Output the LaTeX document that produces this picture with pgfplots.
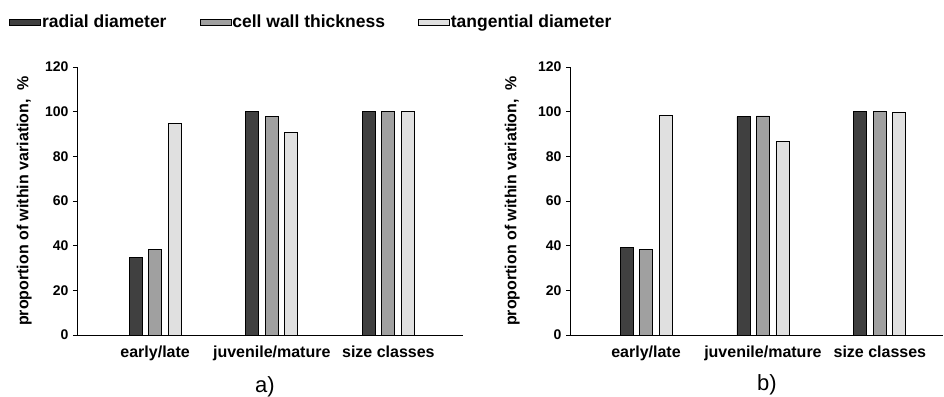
\documentclass[border=0pt]{standalone}
\usepackage{fontspec}
\setmainfont{Liberation Sans}
\usepackage{pgfplots}
\pgfplotsset{compat=1.18}
\definecolor{cdark}{HTML}{404040}
\definecolor{cmid}{HTML}{A0A0A0}
\definecolor{clight}{HTML}{E0E0E0}
\pgfplotsset{
  panel/.style={
    scale only axis,
    anchor=south west,
    height=268pt,
    ybar=6.5pt,
    bar width=13pt,
    ymin=0, ymax=120,
    ytick={0,20,...,120},
    axis x line=bottom,
    axis y line=left,
    axis line style={-, line width=0.9pt},
    xtick={0,1,2},
    xticklabels={early/late, juvenile/mature, size classes},
    xtick style={draw=none},
    ytick style={line width=0.9pt, black},
    tick align=outside,
    major tick length=4pt,
    /pgf/number format/assume math mode=true,
    yticklabel style={font=\bfseries\fontsize{14}{14}\selectfont, xshift=-1pt},
    xticklabel style={font=\bfseries\fontsize{16}{16}\selectfont, yshift=-3pt},
    ylabel={proportion of within variation,~~\%},
    ylabel style={font=\bfseries\fontsize{16}{16}\selectfont, anchor=center},
    xlabel style={font=\fontsize{22}{22}\selectfont, anchor=center},
    every axis plot/.append style={draw=black, line width=0.8pt},
  }
}
\begin{document}
\begin{tikzpicture}
\useasboundingbox (0,0) rectangle (944pt,396pt);
\begin{axis}[panel,
  at={(77pt,61pt)}, width=386pt,
  xmin=-0.67, xmax=2.64,
  ylabel style={at={(axis description cs:-0.137,0.5)}},
  xlabel={a)},
  xlabel style={at={(axis description cs:0.487,-0.194)}},
  legend columns=3,
  legend style={draw=none, fill=none, inner sep=0pt,
    at={(axis description cs:-0.176,1.168)}, anchor=west,
    font=\bfseries\fontsize{17.5}{17.5}\selectfont,
    /tikz/every even column/.append style={column sep=32pt},
    nodes={inner sep=1pt}},
  legend image code/.code={\draw[#1, line width=0.8pt] (0pt,-3pt) rectangle (31pt,3pt);},
]
\addplot[fill=cdark] coordinates {(0,34.6) (1,100) (2,100)};
\addplot[fill=cmid] coordinates {(0,38.4) (1,97.8) (2,100)};
\addplot[fill=clight] coordinates {(0,94.8) (1,90.8) (2,100.1)};
\legend{radial diameter, cell wall thickness, tangential diameter}
\end{axis}
\begin{axis}[panel,
  at={(570pt,61pt)}, width=373pt,
  xmin=-0.65, xmax=2.54,
  ylabel style={at={(axis description cs:-0.155,0.5)}},
  xlabel={b)},
  xlabel style={at={(axis description cs:0.528,-0.187)}},
]
\addplot[fill=cdark] coordinates {(0,39.0) (1,97.8) (2,100)};
\addplot[fill=cmid] coordinates {(0,38.2) (1,98.1) (2,100)};
\addplot[fill=clight] coordinates {(0,98.5) (1,86.7) (2,99.6)};
\end{axis}
\end{tikzpicture}
\end{document}
